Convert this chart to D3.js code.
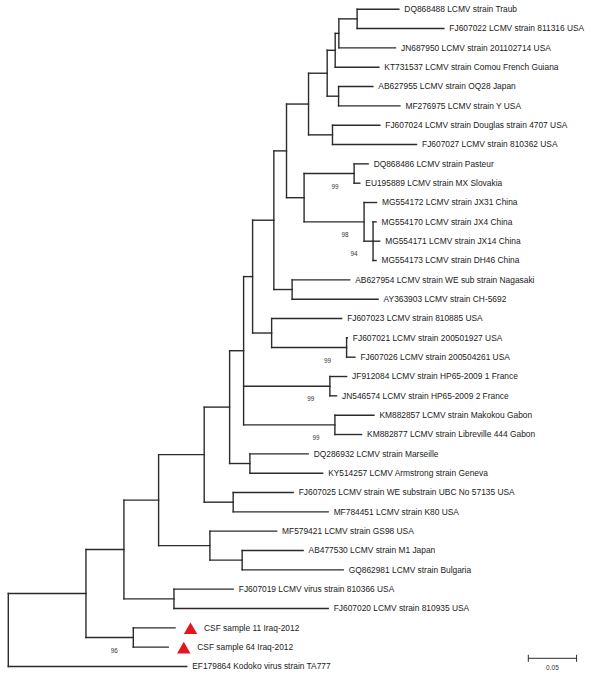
<!DOCTYPE html>
<html>
<head>
<meta charset="utf-8">
<script src="https://cdn.jsdelivr.net/npm/d3@7"></script>
<style>
  html, body { margin: 0; padding: 0; background: #fff; }
  svg { display: block; }
</style>
</head>
<body>
<svg id="chart" width="600" height="679"></svg>
<script>
// ---- Leaves, in display order (top to bottom) ----
const leafLabels = [
  "DQ868488 LCMV strain Traub",
  "FJ607022 LCMV strain 811316 USA",
  "JN687950 LCMV strain 201102714 USA",
  "KT731537 LCMV strain Comou French Guiana",
  "AB627955 LCMV strain OQ28 Japan",
  "MF276975 LCMV strain Y USA",
  "FJ607024 LCMV strain Douglas strain 4707 USA",
  "FJ607027 LCMV strain 810362 USA",
  "DQ868486 LCMV strain Pasteur",
  "EU195889 LCMV strain MX Slovakia",
  "MG554172 LCMV strain JX31 China",
  "MG554170 LCMV strain JX4 China",
  "MG554171 LCMV strain JX14 China",
  "MG554173 LCMV strain DH46 China",
  "AB627954 LCMV strain WE sub strain Nagasaki",
  "AY363903 LCMV strain CH-5692",
  "FJ607023 LCMV strain 810885 USA",
  "FJ607021 LCMV strain 200501927 USA",
  "FJ607026 LCMV strain 200504261 USA",
  "JF912084 LCMV strain HP65-2009 1 France",
  "JN546574 LCMV strain HP65-2009 2 France",
  "KM882857 LCMV strain Makokou Gabon",
  "KM882877 LCMV strain Libreville 444 Gabon",
  "DQ286932 LCMV strain Marseille",
  "KY514257 LCMV Armstrong strain Geneva",
  "FJ607025 LCMV strain WE substrain UBC No 57135 USA",
  "MF784451 LCMV strain K80 USA",
  "MF579421 LCMV strain GS98 USA",
  "AB477530 LCMV strain M1 Japan",
  "GQ862981 LCMV strain Bulgaria",
  "FJ607019 LCMV virus strain 810366 USA",
  "FJ607020 LCMV strain 810935 USA",
  "CSF sample 11 Iraq-2012",
  "CSF sample 64 Iraq-2012",
  "EF179864 Kodoko virus strain TA777"
];
const leafParents = [
  "nTraub","nTraub","n13","n12","nOQ","nOQ","nDoug","nDoug",
  "nPast","nPast","nChina","nChina2","nChina2","nChina2",
  "nNag","nNag","n810885","n21_26","n21_26","nFr","nFr","nGab","nGab",
  "nMars","nMars","nWE","nWE","nGS","nM1","nM1","n19_20","n19_20",
  "nCSF","nCSF","root"
];
// branch lengths (substitutions/site)
const leafLengths = [
  0.0432,0.0898,0.0587,0.0452,0.0355,0.0635,0.0490,0.0870,
  0.0145,0.0059,0.0129,0.0031,0.0069,0.0031,
  0.0597,0.0890,0.0725,0.0008,0.0086,0.0173,0.0069,0.0404,0.0276,
  0.0604,0.0753,0.0621,0.0983,0.0690,0.0631,0.1046,0.0614,0.1597,
  0.0432,0.0362,0.1847
];

// ---- Internal nodes ----
const internalIds = [
  "root","n1","nCSF","n2","n19_20","n3","nGS","nM1","n4","nWE","n5","nMars",
  "n6","nFr","nGab","n7","n810885","n21_26","n8","nNag","n9","nPC","nPast",
  "nChina","nChina2","n10","nDoug","n11","nOQ","n12","n13","nTraub"
];
const internalParents = [
  null,"root","n1","n1","n2","n2","n3","nGS","n3","n4","n4","n5",
  "n5","n6","n6","n6","n7","n810885","n7","n8","n8","n9","nPC",
  "nPC","nChina","n9","n10","n10","n11","n11","n12","n13"
];
const internalLengths = [
  0,0.0804,0.0490,0.0393,0.0518,0.0359,0.0531,0.0334,0.0472,0.0300,0.0263,0.0210,
  0.0145,0.0893,0.0945,0.0093,0.0197,0.0776,0.0220,0.0189,0.0131,0.0182,0.0518,
  0.0621,0.0093,0.0228,0.0248,0.0193,0.0118,0.0083,0.0038,0.0189
];

// ---- Bootstrap support ----
const bootNodes  = ["nPast","nChina","nChina2","n21_26","nFr","nGab","nCSF"];
const bootValues = [99, 98, 94, 99, 99, 99, 96];

// ---- Highlighted samples ----
const markedLeaves = ["CSF sample 11 Iraq-2012", "CSF sample 64 Iraq-2012"];

// ---- Scale bar ----
const scaleBarValue = 0.05;
const scaleBarLabel = "0.05";

// ================= build =================
const rows = [];
internalIds.forEach((id, i) => rows.push({id, parent: internalParents[i], len: internalLengths[i], leaf: false}));
leafLabels.forEach((id, i) => rows.push({id, parent: leafParents[i], len: leafLengths[i], leaf: true, order: i}));

const root = d3.stratify().id(d => d.id).parentId(d => d.parent)(rows);

// cumulative distance
root.eachBefore(n => { n.dist = n.parent ? n.parent.dist + n.data.len : 0; });
// vertical position: leaf order index; internal = midpoint of first/last child
root.eachAfter(n => {
  if (!n.children) n.pos = n.data.order;
  else {
    const ps = n.children.map(c => c.pos);
    n.pos = (d3.min(ps) + d3.max(ps)) / 2;
  }
});

const x = d3.scaleLinear().domain([0, scaleBarValue]).range([8.3, 8.3 + 48.3]);
const y = d3.scaleLinear().domain([0, leafLabels.length - 1]).range([9.2, 666.5]);

const svg = d3.select("#chart");
const g = svg.append("g");
const stroke = "#2b2b2b";
const sw = 1.4;

const nodes = root.descendants();

// horizontal branches
g.selectAll("line.h").data(nodes.filter(n => n.parent)).join("line")
  .attr("class", "h")
  .attr("x1", n => x(n.parent.dist)).attr("x2", n => x(n.dist))
  .attr("y1", n => y(n.pos)).attr("y2", n => y(n.pos))
  .attr("stroke", stroke).attr("stroke-width", sw).attr("stroke-linecap", "square");

// vertical connectors
g.selectAll("line.v").data(nodes.filter(n => n.children)).join("line")
  .attr("class", "v")
  .attr("x1", n => x(n.dist)).attr("x2", n => x(n.dist))
  .attr("y1", n => y(d3.min(n.children, c => c.pos)))
  .attr("y2", n => y(d3.max(n.children, c => c.pos)))
  .attr("stroke", stroke).attr("stroke-width", sw).attr("stroke-linecap", "square");

// leaf labels & markers
const leaves = root.leaves();
const isMarked = n => markedLeaves.includes(n.id);
g.selectAll("path.mark").data(leaves.filter(isMarked)).join("path")
  .attr("class", "mark")
  .attr("d", d3.symbol(d3.symbolTriangle, 78))
  .attr("transform", n => `translate(${x(n.dist) + 15.5},${y(n.pos) + 2.4})`)
  .attr("fill", "#e8141c");

g.selectAll("text.leaf").data(leaves).join("text")
  .attr("class", "leaf")
  .attr("x", n => x(n.dist) + (isMarked(n) ? 29 : 5.5))
  .attr("y", n => y(n.pos))
  .attr("dy", "0.35em")
  .attr("font-family", "Liberation Sans, Arial, sans-serif")
  .attr("font-size", 8.4)
  .attr("fill", "#222")
  .text(n => n.id);

// bootstrap values
const byId = new Map(nodes.map(n => [n.id, n]));
g.selectAll("text.boot").data(bootNodes.map((id, i) => ({node: byId.get(id), v: bootValues[i]}))).join("text")
  .attr("class", "boot")
  .attr("x", d => x(d.node.dist) - 19)
  .attr("y", d => y(d.node.pos) + 13)
  .attr("dy", "0.35em")
  .attr("text-anchor", "middle")
  .attr("font-family", "Liberation Sans, Arial, sans-serif")
  .attr("font-size", 6.3)
  .attr("fill", "#333")
  .text(d => d.v);

// scale bar
const sbX0 = 528.3, sbY = 658.3;
const sbLen = x(scaleBarValue) - x(0);
const sb = svg.append("g");
sb.append("line").attr("x1", sbX0).attr("x2", sbX0 + sbLen).attr("y1", sbY).attr("y2", sbY)
  .attr("stroke", stroke).attr("stroke-width", 1);
[sbX0, sbX0 + sbLen].forEach(px => sb.append("line")
  .attr("x1", px).attr("x2", px).attr("y1", sbY - 3.5).attr("y2", sbY + 3.5)
  .attr("stroke", stroke).attr("stroke-width", 1));
sb.append("text").attr("x", sbX0 + sbLen / 2).attr("y", sbY + 9).attr("dy", "0.35em")
  .attr("text-anchor", "middle")
  .attr("font-family", "Liberation Sans, Arial, sans-serif")
  .attr("font-size", 6.5).attr("fill", "#333")
  .text(scaleBarLabel);
</script>
</body>
</html>
